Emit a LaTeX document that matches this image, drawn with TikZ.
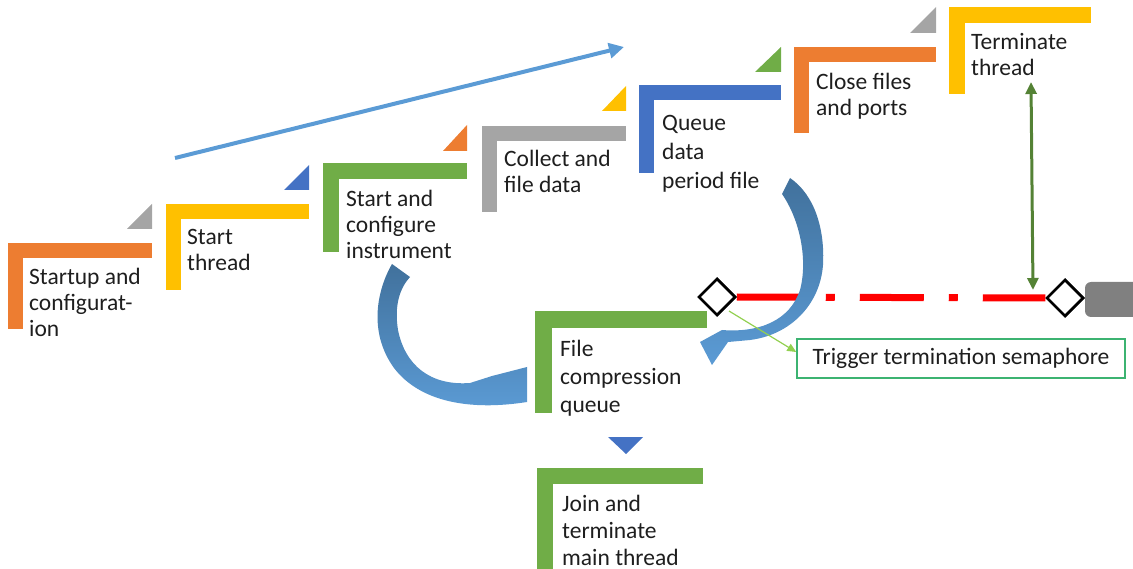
\documentclass[tikz,border=0pt]{standalone}
\usepackage{fontspec}
\setmainfont{Carlito}
\usetikzlibrary{arrows.meta,shapes.geometric}
\definecolor{cOrange}{HTML}{ED7D31}
\definecolor{cYellow}{HTML}{FFC000}
\definecolor{cGreen}{HTML}{70AD47}
\definecolor{cGray}{HTML}{A5A5A5}
\definecolor{cBlue}{HTML}{4472C4}
\definecolor{cLightBlue}{HTML}{5B9BD5}
\definecolor{cDarkBlue}{HTML}{41719C}
\definecolor{cDarkGreen}{HTML}{548235}
\definecolor{cLime}{HTML}{92D050}
\definecolor{cBoxGreen}{HTML}{3CB371}
\definecolor{cText}{HTML}{1E1E1E}
\definecolor{cRed}{HTML}{FF0000}
\definecolor{cBlock}{HTML}{808080}
\newcommand{\lbar}[6]{% color, x, y, right end, bottom, thickness
  \fill[#1] (#2,#3) rectangle (#4,#3+#6);
  \fill[#1] (#2,#3) rectangle (#2+#6,#5);}
\begin{document}
\begin{tikzpicture}[x=1pt,y=-1pt,
  lbl/.style={anchor=base west, inner sep=0pt, align=left, text=cText,
              font=\fontsize{23.5}{26}\selectfont},
  corner/.style={fill=#1},
  curvearrow/.style={top color=cDarkBlue, bottom color=cLightBlue, draw=none},
  gate/.style={diamond, draw=black, fill=white, line width=2.5pt,
               minimum width=37pt, minimum height=37pt, inner sep=0pt}]
\useasboundingbox (0,0) rectangle (1133,569);

% L-shaped step markers
\lbar{cOrange}{8}{243}{152}{329}{15}
\lbar{cYellow}{166}{204}{309}{290}{15}
\lbar{cGreen}{323}{163}{467}{252}{16}
\lbar{cGray}{482}{126}{626}{212}{15}
\lbar{cBlue}{639}{85}{781}{173}{15}
\lbar{cOrange}{794}{47}{936}{133}{15}
\lbar{cYellow}{949}{7}{1091}{94}{16}
\lbar{cGreen}{535}{311}{707}{413}{17}
\lbar{cGreen}{537}{468}{703}{569}{16}

% corner triangles
\fill[corner=cGray]   (127,229) -- (152,229) -- (152,204) -- cycle;
\fill[corner=cBlue]   (284,190) -- (309,190) -- (309,165) -- cycle;
\fill[corner=cOrange] (443,151) -- (467,151) -- (467,125) -- cycle;
\fill[corner=cYellow] (602,111) -- (626,111) -- (626,86) -- cycle;
\fill[corner=cGreen]  (755,72) -- (781,72) -- (781,47) -- cycle;
\fill[corner=cGray]   (910,33) -- (936,33) -- (936,7) -- cycle;
\fill[corner=cBlue]   (608,437) -- (643,437) -- (626,454) -- cycle;

% texts (anchored at the baseline of the last line)
\node[lbl] (s1) at (29,337) {Startup and\\configurat-\\ion};
\node[lbl] (s2) at (187,271) {Start\\thread};
\node[lbl] (s3) at (346,259) {Start and\\configure\\instrument};
\node[lbl] (s4) at (504,193) {Collect and\\file data};
\node[lbl, font=\fontsize{23.5}{29}\selectfont] (s5) at (662,189) {Queue\\data\\period file};
\node[lbl, font=\fontsize{23.5}{25.5}\selectfont] (s6) at (816,115.5) {Close files\\and ports};
\node[lbl] (s7) at (971,76) {Terminate\\thread};
\node[lbl, font=\fontsize{23.5}{28.5}\selectfont] (s8) at (560,413) {File\\compression\\queue};
\node[lbl, font=\fontsize{23.5}{27}\selectfont] (s9) at (562,565) {Join and\\terminate\\main thread};

% straight blue arrow
\coordinate (ba1) at (175,158);
\coordinate (ba2) at (624,47);
\draw[cLightBlue, line width=4pt, -{Triangle[length=15pt,width=15pt]}] (ba1) -- (ba2);

% semaphore line
\fill[cBlock, rounded corners=6pt] (1085,282) rectangle (1150,317);
\node[gate] (d1) at (717,297) {};
\node[gate] (d2) at (1065,298) {};
\draw[cRed, line width=7pt, dash pattern=on 64pt off 25pt on 9pt off 25pt] (d1.east) -- (d2.west);
\node[gate] at (d1) {};
\node[gate] at (d2) {};

% curved block arrow A
\path[curvearrow] (392,264) .. controls (377,290) and (368,332) .. (394,368)
  .. controls (420,402) and (470,411) .. (527,402)
  -- (527,367) -- (492,376) -- (470,383)
  .. controls (430,386) and (405,365) .. (398,330)
  .. controls (394,305) and (400,288) .. (410,277) -- cycle;

% curved block arrow B
\path[curvearrow] (790,178) .. controls (815,195) and (825,230) .. (823,265)
  .. controls (820,305) and (790,335) .. (750,340)
  -- (728,342) -- (712,365) -- (700,342) -- (722,330)
  .. controls (760,333) and (790,320) .. (800,290)
  .. controls (808,260) and (800,220) .. (782,194) -- cycle;

% termination box
\node[draw=cBoxGreen, line width=1.5pt, inner sep=0pt, text=cText,
      minimum width=328pt, minimum height=39pt,
      font=\fontsize{23.5}{26}\selectfont] (trig) at (961,358.5) {Trigger termination semaphore};
\coordinate (tg0) at (729,311);
\draw[cLime, line width=1.2pt, -{Triangle[length=9pt,width=8pt]}] (tg0) -- (trig.west |- 0,352);

% green double arrow
\coordinate (ga1) at (1031,82);
\coordinate (ga2) at (1033,290);
\draw[cDarkGreen, line width=3pt, {Triangle[length=12pt,width=11pt]}-{Triangle[length=12pt,width=11pt]}] (ga1) -- (ga2);
\end{tikzpicture}
\end{document}
